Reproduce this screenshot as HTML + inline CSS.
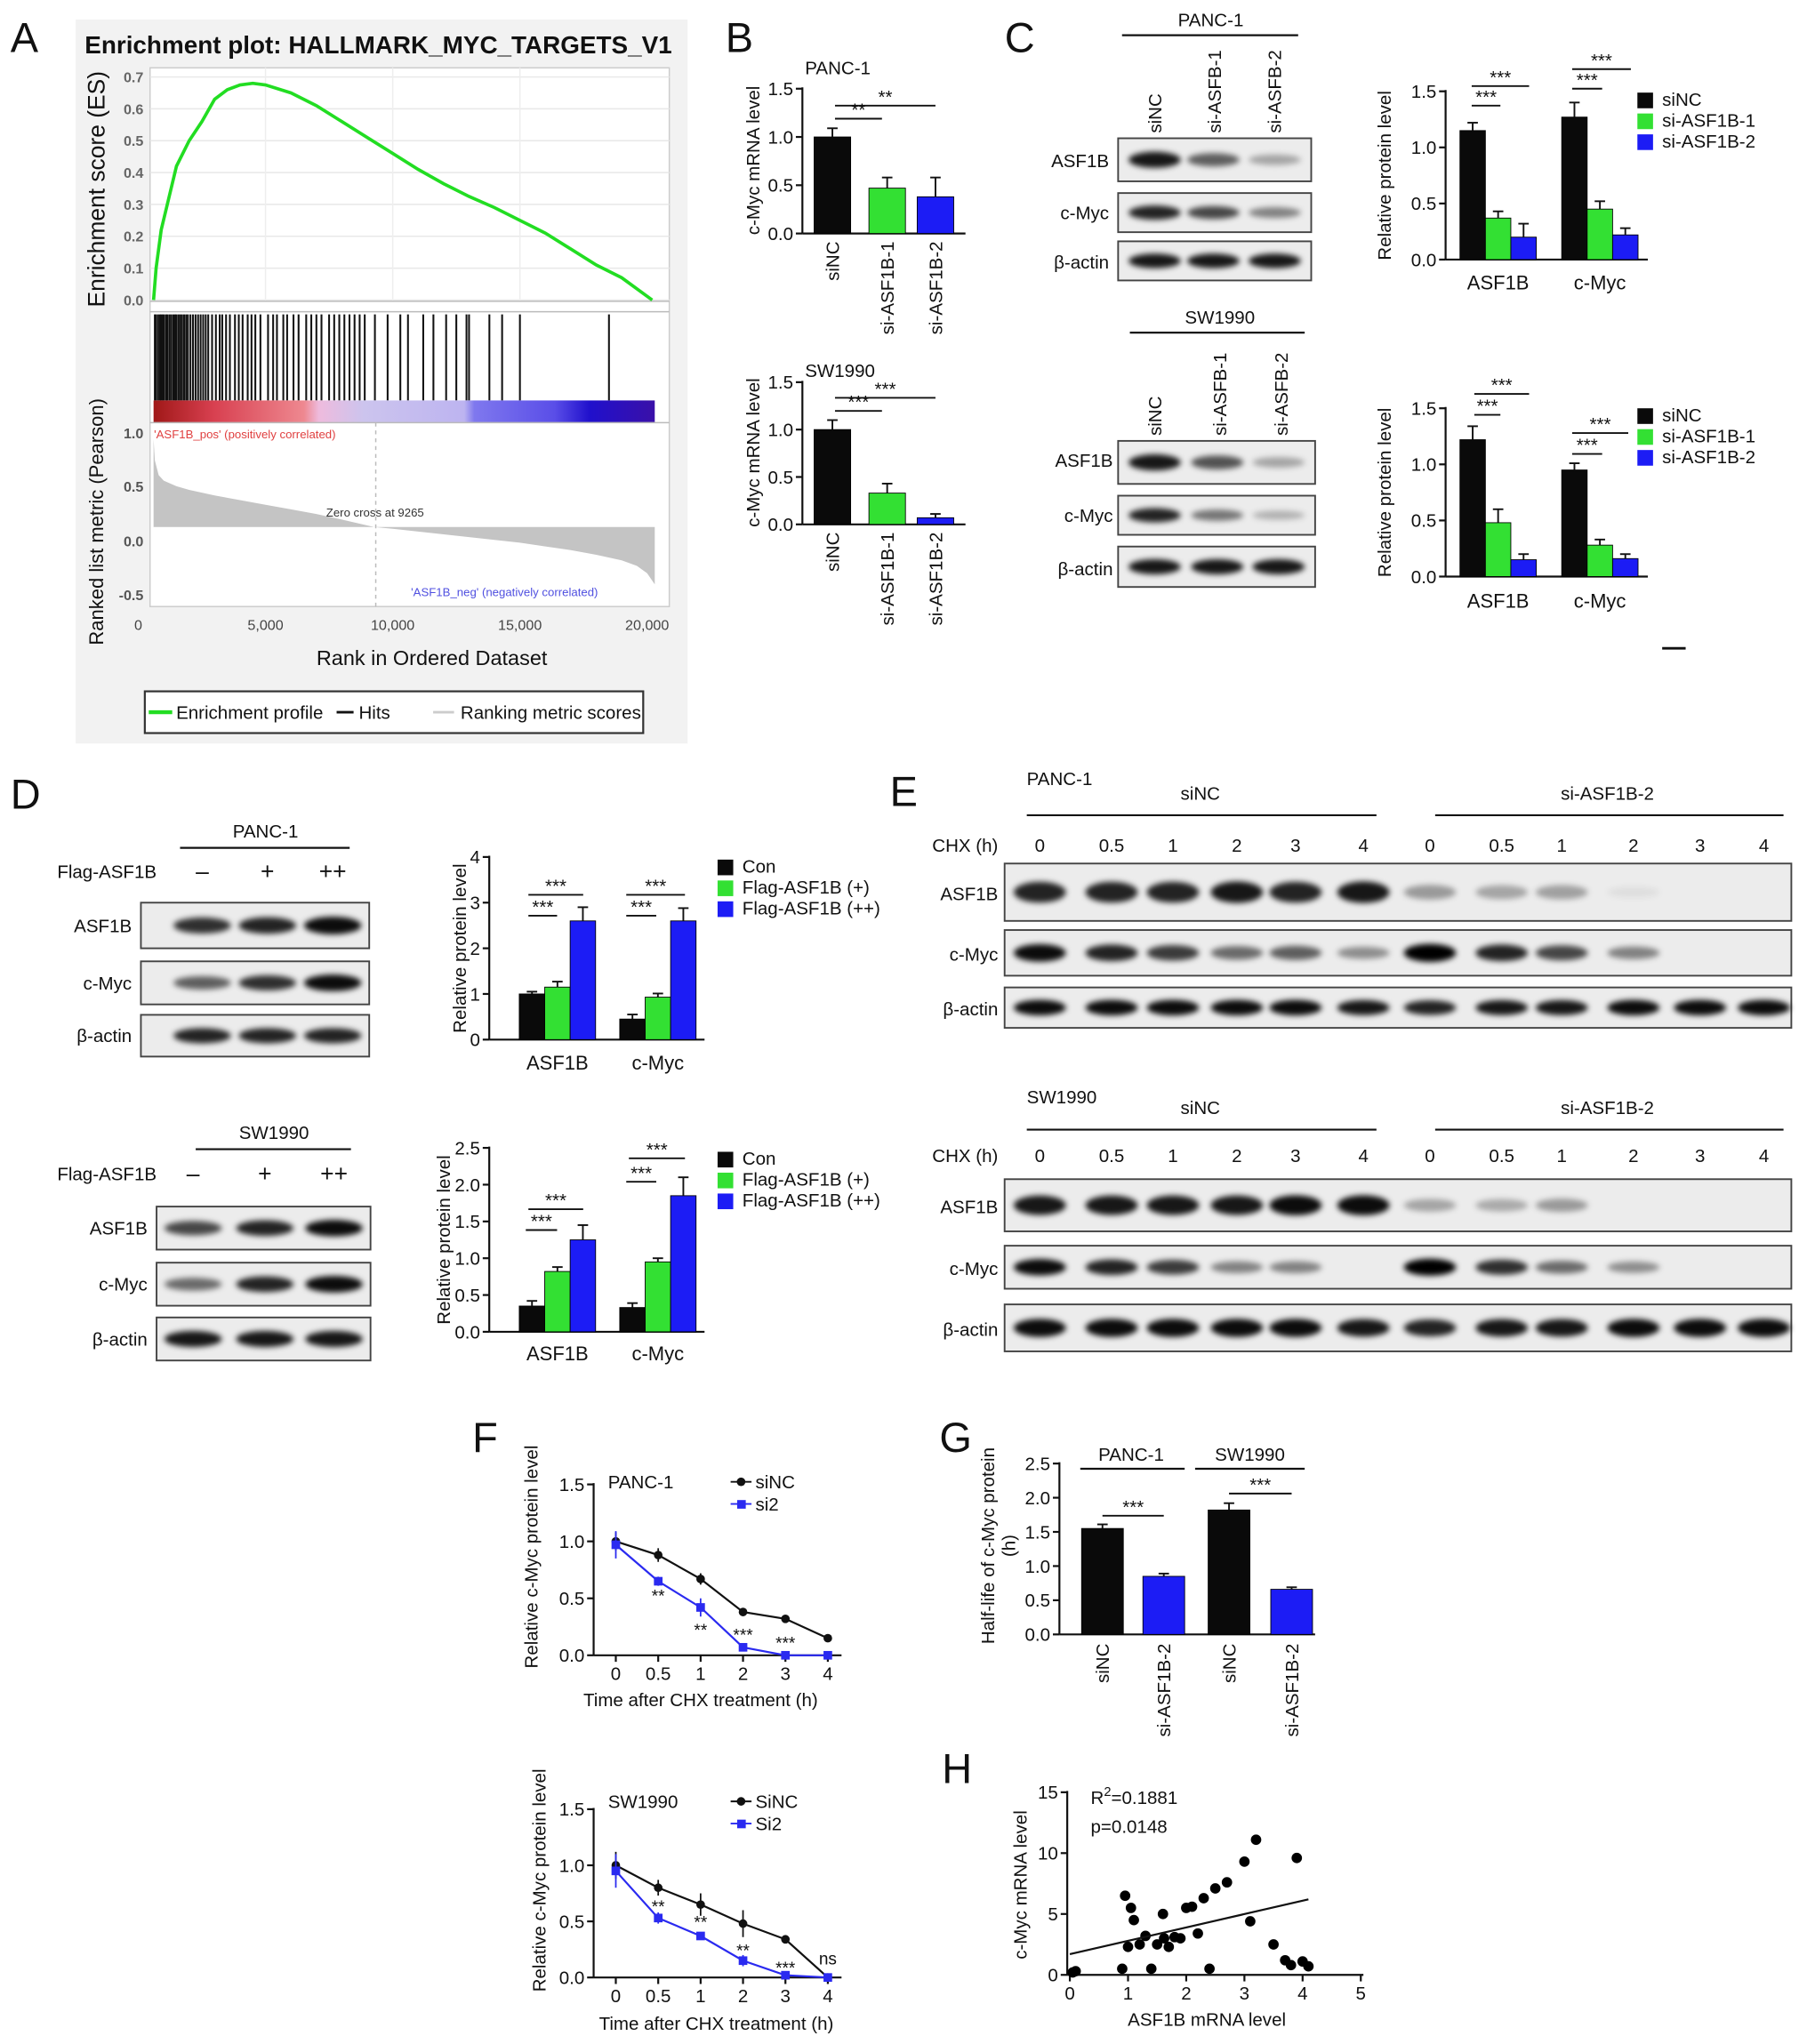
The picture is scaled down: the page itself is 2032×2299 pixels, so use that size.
<!DOCTYPE html>
<html><head><meta charset="utf-8"><title>Figure</title>
<style>
html,body{margin:0;padding:0;background:#fff;}
svg{display:block;font-family:"Liberation Sans",Arial,sans-serif;}
</style></head>
<body>
<svg id="fig" xmlns="http://www.w3.org/2000/svg" width="2032" height="2299" viewBox="0 0 1385 1567" preserveAspectRatio="none">
<defs>
<filter id="blur" x="-20%" y="-100%" width="140%" height="300%"><feGaussianBlur stdDeviation="2.2"/></filter>
<linearGradient id="rankbar" x1="0" x2="1" y1="0" y2="0">
<stop offset="0" stop-color="#a01818"/><stop offset="0.12" stop-color="#d84050"/><stop offset="0.3" stop-color="#ee8890"/>
<stop offset="0.33" stop-color="#eebbdd"/><stop offset="0.42" stop-color="#ccc4ee"/><stop offset="0.62" stop-color="#bdb4f0"/>
<stop offset="0.64" stop-color="#7f78ee"/><stop offset="0.8" stop-color="#5a4ee8"/><stop offset="0.87" stop-color="#2010cc"/><stop offset="1" stop-color="#3a10a8"/>
</linearGradient>
</defs>
</svg>
<script>
// ---------- data ----------
const esRank=[600,700,900,1200,1500,2000,2500,3000,3500,4000,4500,5000,6000,7000,8000,9000,10000,11000,12000,13000,14000,15000,16000,17000,18000,19000,20200];
const esVal=[0,0.1,0.22,0.32,0.42,0.5,0.56,0.63,0.66,0.675,0.68,0.675,0.65,0.61,0.56,0.51,0.46,0.41,0.365,0.325,0.29,0.25,0.21,0.16,0.11,0.07,0.0];
const hitRanks=[650,700,780,850,900,960,1020,1100,1150,1230,1300,1380,1450,1500,1580,1650,1720,1800,1880,1950,2050,2150,2250,2350,2450,2550,2650,2750,2900,3050,3200,3300,3450,3600,3800,3950,4100,4300,4450,4600,4800,5100,5300,5450,5700,5850,6100,6300,6600,6800,7000,7200,7500,7700,7900,8100,8300,8500,8700,8900,9300,9800,10300,10600,11200,11600,12100,12500,12900,13000,13800,14300,15000,18500];
const rmRank=[600,650,800,1000,1500,2000,3000,4000,5000,6000,7000,8000,9265,10000,11000,12000,13000,14000,15000,16000,17000,18000,19000,19600,20000,20300];
const rmVal=[0.95,0.72,0.56,0.5,0.44,0.4,0.34,0.29,0.24,0.19,0.14,0.08,0,-0.02,-0.05,-0.08,-0.11,-0.14,-0.17,-0.21,-0.25,-0.3,-0.36,-0.42,-0.5,-0.62];
const bCats=['siNC','si-ASF1B-1','si-ASF1B-2'];
const bPanc=[1.0,0.47,0.38], bPancErr=[0.09,0.11,0.2];
const bSw=[1.0,0.33,0.07], bSwErr=[0.1,0.1,0.04];
const protGroups=['ASF1B','c-Myc'];
const cSeries=['siNC','si-ASF1B-1','si-ASF1B-2'];
const cPanc=[[1.15,0.37,0.2],[1.27,0.45,0.22]], cPancErr=[[0.07,0.06,0.12],[0.13,0.07,0.06]];
const cSw=[[1.22,0.48,0.15],[0.95,0.28,0.16]], cSwErr=[[0.12,0.12,0.05],[0.06,0.05,0.04]];
const dSeries=['Con','Flag-ASF1B (+)','Flag-ASF1B (++)'];
const dPanc=[[1.0,1.15,2.6],[0.45,0.93,2.6]], dPancErr=[[0.05,0.12,0.3],[0.1,0.08,0.28]];
const dSw=[[0.35,0.82,1.25],[0.33,0.95,1.85]], dSwErr=[[0.07,0.06,0.2],[0.06,0.05,0.25]];
const fTimes=['0','0.5','1','2','3','4'];
const fPancNC=[1.0,0.88,0.67,0.38,0.32,0.15], fPancNCErr=[0.08,0.06,0.05,0.02,0.02,0.02];
const fPancSi=[0.97,0.65,0.42,0.07,0.0,0.0], fPancSiErr=[0.12,0.04,0.08,0.03,0.01,0.01];
const fSwNC=[1.0,0.8,0.65,0.48,0.34,0.0], fSwNCErr=[0.12,0.07,0.1,0.12,0.02,0.01];
const fSwSi=[0.95,0.53,0.37,0.15,0.02,0.0], fSwSiErr=[0.15,0.05,0.03,0.05,0.01,0.01];
const gCats=['siNC','si-ASF1B-2','siNC','si-ASF1B-2'];
const gVals=[1.55,0.85,1.82,0.66], gErr=[0.06,0.04,0.1,0.03];
const hX=[0.05,0.1,0.9,0.95,1.05,1.0,1.1,1.2,1.3,1.4,1.5,1.6,1.62,1.7,1.8,1.9,2.0,2.1,2.2,2.3,2.4,2.5,2.7,3.0,3.1,3.2,3.5,3.7,3.8,3.9,4.1,4.0];
const hY=[0.2,0.3,0.5,6.5,5.5,2.3,4.5,2.5,3.2,0.5,2.5,5.0,3.0,2.3,3.1,3.0,5.5,5.6,3.4,6.3,0.5,7.1,7.6,9.3,4.4,11.1,2.5,1.2,0.8,9.6,0.7,1.1];
const hFit=[1.7,6.2];
const eLanes=['0','0.5','1','2','3','4','0','0.5','1','2','3','4'];
const ePancASF=[0.85,0.85,0.85,0.9,0.85,0.9,0.35,0.3,0.32,0.06,0,0];
const ePancMyc=[0.95,0.85,0.75,0.55,0.6,0.4,1.0,0.85,0.7,0.45,0,0];
const eSwASF=[0.9,0.9,0.9,0.9,0.95,0.95,0.3,0.28,0.35,0,0,0];
const eSwMyc=[0.95,0.85,0.75,0.45,0.45,0,1.0,0.8,0.55,0.4,0,0];
const eActin=[0.95,0.95,0.95,0.95,0.95,0.9,0.85,0.9,0.9,0.95,0.95,0.95];

// ---------- helpers ----------
const NS='http://www.w3.org/2000/svg';
const svg=document.getElementById('fig');
function mk(tag,attrs,parent,name){
  const e=document.createElementNS(NS,tag);
  for(const k in attrs)e.setAttribute(k,attrs[k]);
  
  
  (parent||svg).appendChild(e);return e;
}
function grp(name){return mk('g',{},svg,name);}
function txt(p,x,y,s,name,o){o=o||{};
  const t=mk('text',{x:x,y:y,'font-size':o.fs||14,'text-anchor':o.a||'start',fill:o.c||'#111','font-weight':o.w||'normal'},p,name);
  if(o.r)t.setAttribute('transform','rotate('+o.r+' '+x+' '+y+')');
  t.textContent=s;return t;}
function ln(p,x1,y1,x2,y2,name,o){o=o||{};
  return mk('line',{x1:x1,y1:y1,x2:x2,y2:y2,stroke:o.c||'#111','stroke-width':o.w||1.5,'stroke-dasharray':o.d||'none'},p,name);}
function yAxis(p,ax,y0,y1,vmax,ticks,fmt,fs){
  ln(p,ax,y0,ax,y1-1,'y-axis-line');
  const sc=v=>y0-(y0-y1)*v/vmax;
  ticks.forEach(t=>{ln(p,ax-5,sc(t),ax,sc(t),'y-tick');txt(p,ax-7,sc(t)+5,fmt(t),'y-tick-label',{a:'end',fs:fs||14});});
  return sc;}
function errBar(p,x,y1,y2,name){ln(p,x,y1,x,y2,name,{w:1.3});ln(p,x-4,y2,x+4,y2,name+'-cap',{w:1.3});}
function sig(p,x1,x2,y,s,name){ln(p,x1,y,x2,y,name,{w:1.3});txt(p,(x1+x2)/2,y-2,s,name+'-stars',{a:'middle',fs:14});}
const COL=['#0a0a0a','#33e033','#1c1cf5'];
function groupedBars(p,sc,y0,vals,errs,starts,bw,colorFn,name){
  vals.forEach((row,g)=>row.forEach((v,s)=>{
    const x=starts[g]+s*bw;
    mk('rect',{x:x,y:sc(v),width:bw,height:y0-sc(v),fill:colorFn(g,s),stroke:'#000','stroke-width':0.6},p,name+'-bar');
    errBar(p,x+bw/2,sc(v),sc(v+errs[g][s]),name+'-error');
  }));}
function blot(p,x,y,w,h,lanes,intens,bw,name){
  mk('rect',{x:x,y:y,width:w,height:h,fill:'#ececec',stroke:'#444','stroke-width':1.3},p,name+'-membrane');
  lanes.forEach((lx,i)=>{if(intens[i]>0)mk('ellipse',{cx:lx,cy:y+h/2,rx:bw/2,ry:Math.max(2.5,h*0.18*(0.5+intens[i]*0.6)),fill:'#000','fill-opacity':intens[i],filter:'url(#blur)'},p,name+'-band');});}
function letter(s,x,y){txt(svg,x,y,s,'panel-label-'+s,{fs:32});}

// ---------- Panel A ----------
letter('A',8,40);
const A=grp('panel-a-gsea');
mk('rect',{x:58,y:15,width:469,height:555,fill:'#f2f2f2'},A,'gsea-background');
txt(A,290,41,'Enrichment plot: HALLMARK_MYC_TARGETS_V1','gsea-title',{a:'middle',fs:19,w:'bold'});
mk('rect',{x:115,y:52,width:398,height:413,fill:'#fff',stroke:'#ccc'},A,'gsea-plot-area');
const ax=r=>106+r*(496-106)/20000;
const esY=v=>230-v*(230-59)/0.7;
[0,0.1,0.2,0.3,0.4,0.5,0.6,0.7].forEach(v=>{ln(A,115,esY(v),513,esY(v),'es-gridline',{c:'#e8e8e8',w:1});txt(A,110,esY(v)+4,v.toFixed(1),'es-tick-label',{a:'end',fs:11,c:'#666',w:'bold'});});
[5000,10000,15000].forEach(r=>ln(A,ax(r),52,ax(r),231,'es-vgrid',{c:'#eee',w:1}));
ln(A,115,231,513,231,'es-divider',{c:'#bbb',w:1});ln(A,115,239,513,239,'hits-divider',{c:'#bbb',w:1});
mk('polyline',{points:esRank.map((r,i)=>ax(r)+','+esY(esVal[i])).join(' '),fill:'none',stroke:'#22dd22','stroke-width':2.5},A,'enrichment-profile-line');
txt(A,80,145,'Enrichment score (ES)','es-y-title',{a:'middle',fs:18,r:-90});
hitRanks.forEach(r=>ln(A,ax(r),241,ax(r),307,'hit-line',{w:1.4}));
mk('rect',{x:ax(600),y:307,width:ax(20300)-ax(600),height:17,fill:'url(#rankbar)'},A,'rank-color-bar');
ln(A,115,324,513,324,'rank-divider',{c:'#bbb',w:1});
const rmY=v=>404-v*71;
mk('polygon',{points:ax(600)+','+rmY(0)+' '+rmRank.map((r,i)=>ax(r)+','+rmY(rmVal[i])).join(' ')+' '+ax(20300)+','+rmY(0),fill:'#c4c4c4'},A,'ranking-metric-area');
ln(A,288,324,288,465,'zero-cross-line',{c:'#bbb',w:1,d:'3,3'});
[[1.0,336],[0.5,377],[0.0,419],[-0.5,460]].forEach(a=>txt(A,110,a[1],a[0].toFixed(1),'rm-tick-label',{a:'end',fs:11,c:'#555',w:'bold'}));
txt(A,118,336,"'ASF1B_pos' (positively correlated)",'pos-label',{fs:9,c:'#e04040'});
txt(A,250,396,'Zero cross at 9265','zero-cross-label',{fs:9,c:'#333'});
txt(A,315,457,"'ASF1B_neg' (negatively correlated)",'neg-label',{fs:9,c:'#5050e0'});
txt(A,79,400,'Ranked list metric (Pearson)','rm-y-title',{a:'middle',fs:15,r:-90});
[0,5000,10000,15000,20000].forEach(r=>txt(A,ax(r),483,r?r.toLocaleString('en-US'):'0','x-tick-label',{a:'middle',fs:11,c:'#444'}));
txt(A,331,510,'Rank in Ordered Dataset','x-axis-title',{a:'middle',fs:16});
mk('rect',{x:111,y:530,width:382,height:32,fill:'#fff',stroke:'#333','stroke-width':1.5},A,'gsea-legend');
ln(A,114,546,132,546,'legend-enrichment-swatch',{c:'#22dd22',w:3});txt(A,135,551,'Enrichment profile','legend-enrichment',{fs:14});
ln(A,258,546,271,546,'legend-hits-swatch',{w:2});txt(A,275,551,'Hits','legend-hits',{fs:14});
ln(A,332,546,348,546,'legend-metric-swatch',{c:'#ccc',w:2});txt(A,353,551,'Ranking metric scores','legend-metric',{fs:14});

// ---------- Panel B ----------
letter('B',556,40);
function panelB(name,cell,yTitleY,y0,y1,vals,errs,sigs){
  const P=grp(name);
  txt(P,617,cell[1],cell[0],'cell-line-label',{fs:14});
  const sc=yAxis(P,615,y0,y1,1.5,[0,0.5,1.0,1.5],t=>t.toFixed(1));
  ln(P,615,y0,740,y0,'x-axis-line');
  const starts=[624,666,703];
  vals.forEach((v,i)=>{
    mk('rect',{x:starts[i],y:sc(v),width:28,height:y0-sc(v),fill:COL[i],stroke:'#000','stroke-width':0.6},P,'bar-'+bCats[i]);
    errBar(P,starts[i]+14,sc(v),sc(v+errs[i]),'error-bar');
    txt(P,starts[i]+19,y0+6,bCats[i],'x-category-label',{a:'end',fs:14,r:-90});
  });
  txt(P,582,yTitleY,'c-Myc mRNA level','y-axis-title',{a:'middle',fs:14,r:-90});
  sigs.forEach(s=>sig(P,s[0],s[1],s[2],s[3],'significance'));
}
panelB('panel-b-panc1',['PANC-1',57],123,179,68,bPanc,bPancErr,[[640,676,91,'**'],[640,717,81,'**']]);
panelB('panel-b-sw1990',['SW1990',289],347,402,293,bSw,bSwErr,[[640,676,315,'***'],[640,717,305,'***']]);

// ---------- Panel C ----------
letter('C',770,40);
const C1=grp('panel-c-panc1-blot');
txt(C1,928,20,'PANC-1','cell-line-label',{a:'middle',fs:14});ln(C1,860,27,995,27,'group-line');
[['siNC',885],['si-ASFB-1',931],['si-ASFB-2',977]].forEach(l=>txt(C1,l[1]+5,102,l[0],'lane-label',{fs:14,r:-90}));
blot(C1,857,106,148,33,[885,930,977],[0.9,0.6,0.3],40,'asf1b');txt(C1,850,128,'ASF1B','row-label',{a:'end',fs:14});
blot(C1,857,148,148,30,[885,930,977],[0.85,0.7,0.45],40,'cmyc');txt(C1,850,168,'c-Myc','row-label',{a:'end',fs:14});
blot(C1,857,185,148,30,[885,930,977],[0.9,0.9,0.9],40,'actin');txt(C1,850,206,'β-actin','row-label',{a:'end',fs:14});
const C2=grp('panel-c-sw1990-blot');
txt(C2,935,248,'SW1990','cell-line-label',{a:'middle',fs:14});ln(C2,866,255,1000,255,'group-line');
[['siNC',885],['si-ASFB-1',935],['si-ASFB-2',982]].forEach(l=>txt(C2,l[1]+5,334,l[0],'lane-label',{fs:14,r:-90}));
blot(C2,857,338,151,33,[885,933,980],[0.9,0.65,0.3],40,'asf1b');txt(C2,853,358,'ASF1B','row-label',{a:'end',fs:14});
blot(C2,857,380,151,30,[885,933,980],[0.85,0.5,0.25],40,'cmyc');txt(C2,853,400,'c-Myc','row-label',{a:'end',fs:14});
blot(C2,857,419,151,31,[885,933,980],[0.9,0.9,0.9],40,'actin');txt(C2,853,441,'β-actin','row-label',{a:'end',fs:14});
function protChart(name,ax0,y0,y1,vmax,ticks,starts,bw,xEnd,vals,errs,series,legX,legY,labY,titleX,sigs,tickFmt){
  const P=grp(name);
  const sc=yAxis(P,ax0,y0,y1,vmax,ticks,tickFmt||(t=>t.toFixed(1)));
  ln(P,ax0,y0,xEnd,y0,'x-axis-line');
  groupedBars(P,sc,y0,vals,errs,starts,bw,(g,s)=>COL[s],'protein');
  protGroups.forEach((gname,g)=>txt(P,starts[g]+bw*1.5,labY,gname,'x-category-label',{a:'middle',fs:15}));
  txt(P,titleX,(y0+y1)/2,'Relative protein level','y-axis-title',{a:'middle',fs:14,r:-90});
  series.forEach((s,i)=>{mk('rect',{x:legX,y:legY+i*16-10,width:12,height:12,fill:COL[i]},P,'legend-swatch-'+i);txt(P,legX+19,legY+i*16,s,'legend-entry',{fs:14});});
  sigs.forEach(s=>sig(P,s[0],s[1],s[2],'***','significance'));
}
protChart('panel-c-panc1-chart',1108,199,70,1.5,[0,0.5,1.0,1.5],[1119,1197],19.5,1263,cPanc,cPancErr,cSeries,1255,81,222,1066,
  [[1128,1172,66],[1128,1150,81],[1205,1250,53],[1205,1228,68]]);
protChart('panel-c-sw1990-chart',1108,442,313,1.5,[0,0.5,1.0,1.5],[1119,1197],19.5,1263,cSw,cSwErr,cSeries,1255,323,466,1066,
  [[1130,1172,302],[1130,1150,318],[1205,1248,332],[1205,1228,348]]);
ln(svg,1274,497,1292,497,'scale-dash',{w:2});

// ---------- Panel D ----------
letter('D',8,620);
function panelDBlot(name,cell,lineY,flagY,bx,bw,lanes,rows,labX){
  const P=grp(name);
  txt(P,(bx+bx+bw)/2+8,lineY-8,cell,'cell-line-label',{a:'middle',fs:14});ln(P,bx+30,lineY,bx+bw-15,lineY,'group-line');
  txt(P,labX,flagY+5,'Flag-ASF1B','flag-label',{a:'end',fs:14});
  ['–','+','++'].forEach((s,i)=>txt(P,lanes[i],flagY+6,s,'flag-lane-label',{a:'middle',fs:18}));
  rows.forEach(r=>{blot(P,bx,r[1],bw,r[2],lanes,r[3],44,r[0].toLowerCase().replace(/[^a-z]/g,''));txt(P,bx-7,r[1]+r[2]/2+5,r[0],'row-label',{a:'end',fs:14});});
}
panelDBlot('panel-d-panc1-blot','PANC-1',650,668,108,175,[155,205,255],[['ASF1B',692,35,[0.8,0.85,0.95]],['c-Myc',737,33,[0.6,0.8,0.95]],['β-actin',778,32,[0.85,0.85,0.85]]],120);
panelDBlot('panel-d-sw1990-blot','SW1990',881,900,120,164,[148,203,256],[['ASF1B',925,33,[0.7,0.85,0.95]],['c-Myc',968,33,[0.55,0.85,0.95]],['β-actin',1010,33,[0.9,0.9,0.9]]],120);
protChart('panel-d-panc1-chart',375,797,657,4,[0,1,2,3,4],[398,475],19.5,540,dPanc,dPancErr,dSeries,550,669,820,357,
  [[405,447,686],[405,427,702],[480,525,686],[480,503,702]],t=>String(t));
protChart('panel-d-sw1990-chart',375,1021,880,2.5,[0,0.5,1.0,1.5,2.0,2.5],[398,475],19.5,540,dSw,dSwErr,dSeries,550,893,1043,345,
  [[405,447,927],[403,427,943],[482,525,888],[480,503,906]]);

// ---------- Panel E ----------
letter('E',682,618);
const eX=[797,852,899,948,993,1045,1096,1151,1197,1252,1303,1352];
function panelE(name,cell,cellY,lineY,chxY,rows){
  const P=grp(name);
  txt(P,787,cellY,cell,'cell-line-label',{fs:14});
  txt(P,920,lineY-12,'siNC','group-label-sinc',{a:'middle',fs:14});ln(P,787,lineY,1055,lineY,'group-line');
  txt(P,1232,lineY-12,'si-ASF1B-2','group-label-si',{a:'middle',fs:14});ln(P,1100,lineY,1367,lineY,'group-line');
  txt(P,765,chxY+5,'CHX (h)','chx-label',{a:'end',fs:14});
  eLanes.forEach((l,i)=>txt(P,eX[i],chxY+5,l,'chx-time-label',{a:'middle',fs:14}));
  rows.forEach(r=>{blot(P,770,r[1],603,r[2],eX,r[3],40,r[0].toLowerCase().replace(/[^a-z]/g,''));txt(P,765,r[1]+r[2]/2+6,r[0],'row-label',{a:'end',fs:14});});
}
panelE('panel-e-panc1','PANC-1',602,625,648,[['ASF1B',662,44,ePancASF],['c-Myc',713,35,ePancMyc],['β-actin',757,31,eActin]]);
panelE('panel-e-sw1990','SW1990',846,866,886,[['ASF1B',904,40,eSwASF],['c-Myc',955,33,eSwMyc],['β-actin',1000,36,eActin]]);

// ---------- Panel F ----------
letter('F',362,1113);
function panelF(name,cell,y0,y1,nc,ncE,si,siE,legY,names,stars,xlabY,titleX,titleY,ttlX){
  const P=grp(name);
  const sc=yAxis(P,455,y0,y1,1.5,[0,0.5,1.0,1.5],t=>t.toFixed(1));
  const xs=i=>472+i*32.5;
  ln(P,455,y0,645,y0,'x-axis-line');
  fTimes.forEach((t,i)=>{ln(P,xs(i),y0,xs(i),y0+5,'x-tick');txt(P,xs(i),xlabY,t,'x-tick-label',{a:'middle',fs:14});});
  [[nc,ncE,'#111','sinc'],[si,siE,'#2a2af0','si2']].forEach(s=>{
    mk('polyline',{points:s[0].map((v,i)=>xs(i)+','+sc(v)).join(' '),fill:'none',stroke:s[2],'stroke-width':1.5},P,'line-'+s[3]);
    s[0].forEach((v,i)=>{ln(P,xs(i),sc(v-s[1][i]),xs(i),sc(v+s[1][i]),'error-bar',{c:s[2],w:1.2});
      if(s[3]==='sinc')mk('circle',{cx:xs(i),cy:sc(v),r:3.3,fill:s[2]},P,'point-'+s[3]);
      else mk('rect',{x:xs(i)-3.3,y:sc(v)-3.3,width:6.6,height:6.6,fill:s[2]},P,'point-'+s[3]);});
  });
  txt(P,466,legY,cell,'cell-line-label',{fs:14});
  ln(P,560,legY-5,576,legY-5,'legend-line-sinc',{w:1.3});mk('circle',{cx:568,cy:legY-5,r:3.3,fill:'#111'},P,'legend-marker-sinc');txt(P,579,legY,names[0],'legend-entry',{fs:14});
  ln(P,560,legY+12,576,legY+12,'legend-line-si2',{c:'#2a2af0',w:1.3});mk('rect',{x:565,y:legY+9,width:6.6,height:6.6,fill:'#2a2af0'},P,'legend-marker-si2');txt(P,579,legY+17,names[1],'legend-entry',{fs:14});
  stars.forEach(s=>txt(P,xs(s[0]),s[1],s[2],'significance-stars',{a:'middle',fs:13}));
  txt(P,ttlX,(y0+y1)/2-10,'Relative c-Myc protein level','y-axis-title',{a:'middle',fs:14,r:-90});
  txt(P,titleX,titleY,'Time after CHX treatment (h)','x-axis-title',{a:'middle',fs:14});
}
panelF('panel-f-panc1','PANC-1',1269,1138,fPancNC,fPancNCErr,fPancSi,fPancSiErr,1141,['siNC','si2'],
  [[1,1228,'**'],[2,1254,'**'],[3,1258,'***'],[4,1264,'***']],1288,537,1308,412);
panelF('panel-f-sw1990','SW1990',1516,1387,fSwNC,fSwNCErr,fSwSi,fSwSiErr,1386,['SiNC','Si2'],
  [[1,1466,'**'],[2,1478,'**'],[3,1500,'**'],[4,1513,'***'],[5,1506,'ns']],1535,549,1556,418);

// ---------- Panel G ----------
letter('G',720,1113);
const G=grp('panel-g-half-life');
const gsc=yAxis(G,812,1253,1122,2.5,[0,0.5,1.0,1.5,2.0,2.5],t=>t.toFixed(1));
ln(G,812,1253,1008,1253,'x-axis-line');
const gStarts=[829,876,926,974];
gVals.forEach((v,i)=>{
  mk('rect',{x:gStarts[i],y:gsc(v),width:32,height:1253-gsc(v),fill:i%2?COL[2]:COL[0],stroke:'#000','stroke-width':0.6},G,'bar-'+gCats[i]);
  errBar(G,gStarts[i]+16,gsc(v),gsc(v+gErr[i]),'error-bar');
  txt(G,gStarts[i]+21,1260,gCats[i],'x-category-label',{a:'end',fs:14,r:-90});
});
txt(G,867,1120,'PANC-1','group-label',{a:'middle',fs:14});ln(G,828,1126,908,1126,'group-line');
txt(G,958,1120,'SW1990','group-label',{a:'middle',fs:14});ln(G,916,1126,1000,1126,'group-line');
sig(G,845,892,1162,'***','significance');sig(G,942,990,1145,'***','significance');
txt(G,762,1185,'Half-life of c-Myc protein','y-axis-title',{a:'middle',fs:14,r:-90});
txt(G,778,1185,'(h)','y-axis-unit',{a:'middle',fs:14,r:-90});

// ---------- Panel H ----------
letter('H',722,1367);
const H=grp('panel-h-correlation');
const hy=yAxis(H,818,1514,1374,15,[0,5,10,15],t=>String(t));
const hx=v=>820+v*44.6;
ln(H,818,1514,1045,1514,'x-axis-line');
[0,1,2,3,4,5].forEach(v=>{ln(H,hx(v),1514,hx(v),1519,'x-tick');txt(H,hx(v),1533,String(v),'x-tick-label',{a:'middle',fs:14});});
hX.forEach((x,i)=>mk('circle',{cx:hx(x),cy:hy(hY[i]),r:4,fill:'#000'},H,'scatter-point'));
ln(H,hx(0),hy(hFit[0]),hx(4.1),hy(hFit[1]),'regression-line',{w:1.5});
const r2=txt(H,836,1383,'R','r-squared-label',{fs:14});
const sup=document.createElementNS(NS,'tspan');sup.setAttribute('dy','-6');sup.setAttribute('font-size','10');sup.textContent='2';r2.appendChild(sup);
const rest=document.createElementNS(NS,'tspan');rest.setAttribute('dy','6');rest.textContent='=0.1881';r2.appendChild(rest);
txt(H,836,1405,'p=0.0148','p-value-label',{fs:14});
txt(H,787,1445,'c-Myc mRNA level','y-axis-title',{a:'middle',fs:14,r:-90});
txt(H,925,1553,'ASF1B mRNA level','x-axis-title',{a:'middle',fs:14});
</script>
</body></html>
